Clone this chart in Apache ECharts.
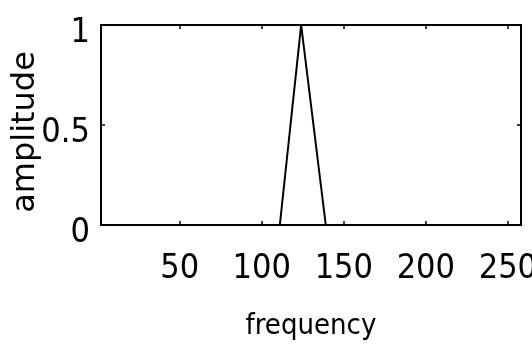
<!DOCTYPE html>
<html>
<head>
<meta charset="utf-8">
<script src="https://cdn.jsdelivr.net/npm/echarts@6/dist/echarts.min.js"></script>
<style>
html,body{margin:0;padding:0;background:#fff;}
#c{width:532px;height:350px;}
</style>
</head>
<body>
<div id="c"></div>
<script>
var frequency = [2, 111, 124, 125, 139, 258];
var amplitude = [0, 0, 1, 1, 0, 0];
var xTicks = [50, 100, 150, 200, 250];
var yTicks = [0, 0.5, 1];

var FONT = '"Liberation Sans Narrow", "DejaVu Sans Condensed", "Liberation Sans", sans-serif';
var points = frequency.map(function (f, i) { return [f, amplitude[i]]; });

var chart = echarts.init(document.getElementById('c'), null, {renderer: 'canvas'});
var axisLineStyle = {color: '#000', width: 2};
chart.setOption({
  animation: false,
  backgroundColor: '#fff',
  grid: {left: 101, right: 11, top: 25, bottom: 125, containLabel: false, outerBoundsMode: 'none'},
  xAxis: [{
    type: 'value', min: 2, max: 258, position: 'bottom',
    name: 'frequency', nameLocation: 'middle', nameGap: 87,
    nameTextStyle: {fontFamily: FONT, fontSize: 29, color: '#000'},
    axisLine: {show: true, onZero: false, lineStyle: axisLineStyle},
    axisTick: {show: true, inside: true, length: 4, lineStyle: {color: '#000', width: 1.5},
      customValues: xTicks},
    axisLabel: {fontFamily: FONT, fontSize: 34, color: '#000', margin: 27,
      customValues: xTicks, formatter: function (v) { return String(v); }},
    splitLine: {show: false}
  }, {
    type: 'value', min: 2, max: 258, position: 'top',
    axisLine: {show: true, onZero: false, lineStyle: axisLineStyle},
    axisTick: {show: true, inside: true, length: 4, lineStyle: {color: '#000', width: 1.5},
      customValues: xTicks},
    axisLabel: {show: false},
    splitLine: {show: false}
  }],
  yAxis: [{
    type: 'value', min: 0, max: 1, position: 'left',
    name: 'amplitude', nameLocation: 'middle', nameGap: 59, nameMoveOverlap: false,
    nameTextStyle: {fontFamily: '"DejaVu Sans", sans-serif', fontSize: 32, color: '#000',
      padding: [0, 14, 0, 0]},
    axisLine: {show: true, onZero: false, lineStyle: axisLineStyle},
    axisTick: {show: true, inside: true, length: 4, lineStyle: {color: '#000', width: 1.5},
      customValues: yTicks},
    axisLabel: {fontFamily: FONT, fontSize: 34, color: '#000', margin: 11,
      verticalAlign: 'top', lineHeight: 16, customValues: yTicks,
      formatter: function (v) { return String(v); }},
    splitLine: {show: false}
  }, {
    type: 'value', min: 0, max: 1, position: 'right',
    axisLine: {show: true, onZero: false, lineStyle: axisLineStyle},
    axisTick: {show: true, inside: true, length: 4, lineStyle: {color: '#000', width: 1.5},
      customValues: yTicks},
    axisLabel: {show: false},
    splitLine: {show: false}
  }],
  series: [{
    type: 'line',
    data: points,
    xAxisIndex: 0, yAxisIndex: 0,
    showSymbol: false,
    lineStyle: {color: '#000', width: 2},
    z: 1
  }]
});
</script>
</body>
</html>
